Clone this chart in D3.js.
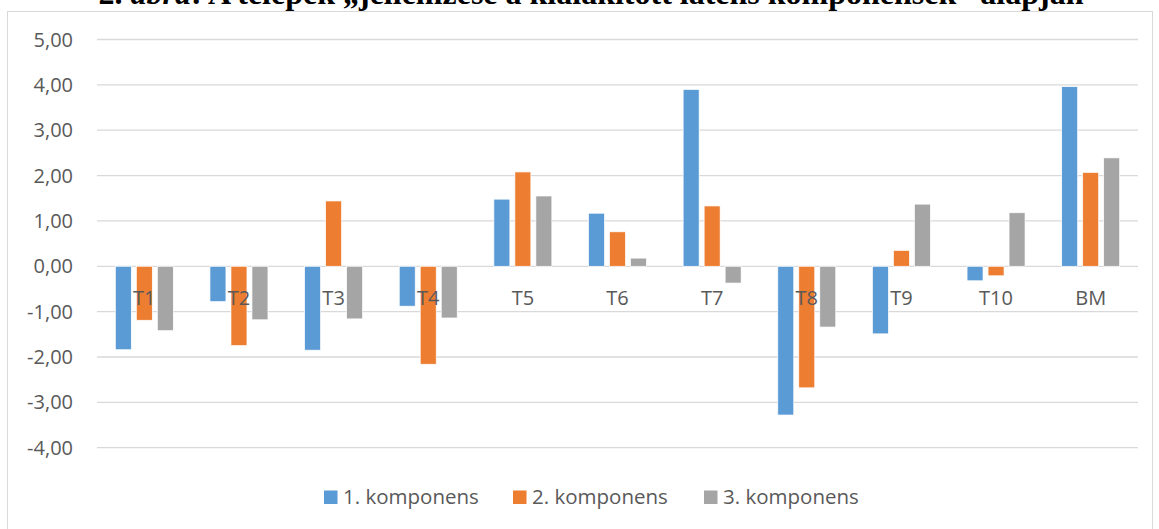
<!DOCTYPE html>
<html>
<head>
<meta charset="utf-8">
<script src="https://cdn.jsdelivr.net/npm/d3@7"></script>
<style>
  body { margin: 0; background: #fff; }
  svg { display: block; }
</style>
</head>
<body>
<svg id="chart" width="1159" height="529"></svg>
<script>
// data
var categories = ['T1','T2','T3','T4','T5','T6','T7','T8','T9','T10','BM'];
var seriesNames = ['1. komponens','2. komponens','3. komponens'];
var comp1 = [-1.84,-0.78,-1.85,-0.88,1.48,1.17,3.90,-3.28,-1.49,-0.32,3.96];
var comp2 = [-1.19,-1.75,1.44,-2.16,2.08,0.76,1.33,-2.68,0.35,-0.21,2.07];
var comp3 = [-1.42,-1.18,-1.16,-1.14,1.55,0.18,-0.37,-1.34,1.37,1.18,2.39];
var yTicks = [5,4,3,2,1,0,-1,-2,-3,-4];
var colors = ['#5B9BD5','#ED7D31','#A5A5A5'];

var series = [comp1, comp2, comp3];
var svg = d3.select('#chart');
var fontFam = '"Open Sans", "Liberation Sans", sans-serif';

// chart frame
svg.append('rect').attr('x', 7.5).attr('y', 11.5).attr('width', 1145).attr('height', 530)
    .attr('fill', 'none').attr('stroke', '#D9D9D9').attr('stroke-width', 1);

// title, cut off at the top like the original
var title = svg.append('text').attr('x', 591).attr('y', 4).attr('text-anchor', 'middle')
    .attr('font-family', '"Liberation Serif", "Times New Roman", serif')
    .attr('font-size', 32).attr('font-weight', 'bold').attr('fill', '#000');
title.append('tspan').text('2.  ');
title.append('tspan').attr('font-style', 'italic').text('ábra');
title.append('tspan').text(': A telepek \u201ejellemzése a kialakított látens komponensek\u201d alapján');

var left = 97, right = 1138;
var y = d3.scaleLinear().domain([-4, 5]).range([447.7, 39.5]);
var x = d3.scaleBand().domain(categories).range([left, right]);
var barW = 16, barGap = 5;

// gridlines
svg.append('g').selectAll('line').data(yTicks).enter().append('line')
    .attr('x1', left).attr('x2', right)
    .attr('y1', d => y(d)).attr('y2', d => y(d))
    .attr('stroke', '#D9D9D9').attr('stroke-width', 1.3);

// y tick labels
var fmt = d => d3.format('.2f')(d).replace('.', ',').replace('−', '-');
svg.append('g').selectAll('text').data(yTicks).enter().append('text')
    .attr('x', 73).attr('y', d => y(d)).attr('dy', '0.35em')
    .attr('text-anchor', 'end').attr('font-family', fontFam).attr('font-size', 20)
    .attr('fill', '#595959').text(fmt);

// bars
series.forEach(function(vals, s){
    svg.append('g').selectAll('rect').data(vals).enter().append('rect')
        .attr('x', (d,i) => x(categories[i]) + x.bandwidth()/2 - barW*1.5 - barGap + s*(barW+barGap))
        .attr('width', barW)
        .attr('y', d => Math.min(y(d), y(0)))
        .attr('height', d => Math.abs(y(d) - y(0)))
        .attr('fill', colors[s])
        .attr('stroke', '#fff').attr('stroke-width', 0.7);
});

// category labels just under the zero line
svg.append('g').selectAll('text').data(categories).enter().append('text')
    .attr('x', d => x(d) + x.bandwidth()/2).attr('y', y(0) + 39)
    .attr('text-anchor', 'middle').attr('font-family', fontFam).attr('font-size', 20)
    .attr('fill', '#595959').text(d => d);

// legend
var legX = [324, 513, 704];
var leg = svg.append('g');
seriesNames.forEach(function(n, i){
    leg.append('rect').attr('x', legX[i]).attr('y', 490.5).attr('width', 13.5).attr('height', 13.5)
        .attr('fill', colors[i]);
    leg.append('text').attr('x', legX[i] + 19).attr('y', 497).attr('dy', '0.35em')
        .attr('font-family', fontFam).attr('font-size', 20.5).attr('fill', '#595959').text(n);
});
</script>
</body>
</html>
